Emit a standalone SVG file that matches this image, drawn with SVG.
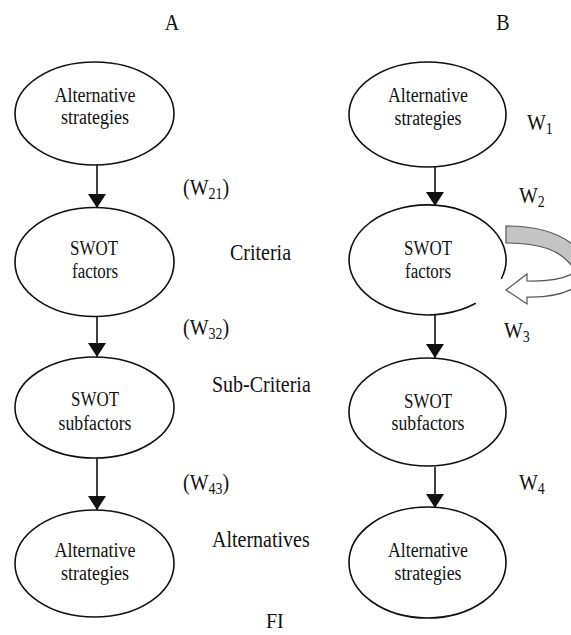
<svg xmlns="http://www.w3.org/2000/svg" width="571" height="635" viewBox="0 0 571 635">
<style>
  .node { fill: #fff; stroke: #111; stroke-width: 1.6; }
  .nt { font-family: "Liberation Serif", "Times New Roman", Times, "DejaVu Serif", serif; font-size: 20px; fill: #111; text-anchor: middle; }
  .lb { font-family: "Liberation Serif", "Times New Roman", Times, "DejaVu Serif", serif; font-size: 20px; fill: #111; }
  .sub { font-size: 14px; }
  .edge { stroke: #111; stroke-width: 1.6; fill: none; }
</style>
<defs>
  <marker id="ah" viewBox="0 0 14 18" refX="14" refY="9" markerWidth="14" markerHeight="18" markerUnits="userSpaceOnUse" orient="auto">
    <path d="M0,0 L14,9 L0,18 Z" fill="#111"/>
  </marker>
</defs>
<rect width="571" height="635" fill="#fff"/>

<text class="lb" transform="translate(172,30) scale(1,1.12)" text-anchor="middle">A</text>
<text class="lb" transform="translate(503,30) scale(1,1.12)" text-anchor="middle">B</text>

<g id="connectors">
  <line class="edge" x1="97" y1="165" x2="97" y2="208" marker-end="url(#ah)"/>
  <line class="edge" x1="97" y1="317" x2="97" y2="357" marker-end="url(#ah)"/>
  <line class="edge" x1="97" y1="458" x2="97" y2="510" marker-end="url(#ah)"/>
  <line class="edge" x1="435" y1="167" x2="435" y2="206" marker-end="url(#ah)"/>
  <line class="edge" x1="435" y1="315" x2="435" y2="358" marker-end="url(#ah)"/>
  <line class="edge" x1="435" y1="467" x2="435" y2="508" marker-end="url(#ah)"/>
</g>

<g id="a1">
  <ellipse class="node" cx="94.5" cy="113.5" rx="79.5" ry="51.5"/>
  <text class="nt" x="95" y="102" textLength="81" lengthAdjust="spacingAndGlyphs">Alternative</text>
  <text class="nt" x="95" y="124" textLength="68" lengthAdjust="spacingAndGlyphs">strategies</text>
</g>
<g id="a2">
  <ellipse class="node" cx="94.5" cy="262" rx="79.5" ry="54.5"/>
  <text class="nt" x="94" y="255" textLength="48" lengthAdjust="spacingAndGlyphs">SWOT</text>
  <text class="nt" x="95" y="278" textLength="46" lengthAdjust="spacingAndGlyphs">factors</text>
</g>
<g id="a3">
  <ellipse class="node" cx="94.5" cy="407.5" rx="79.5" ry="50.5"/>
  <text class="nt" x="95" y="406" textLength="48" lengthAdjust="spacingAndGlyphs">SWOT</text>
  <text class="nt" x="95" y="430" textLength="73" lengthAdjust="spacingAndGlyphs">subfactors</text>
</g>
<g id="a4">
  <ellipse class="node" cx="94.5" cy="563.5" rx="79.5" ry="53.5"/>
  <text class="nt" x="95" y="557" textLength="81" lengthAdjust="spacingAndGlyphs">Alternative</text>
  <text class="nt" x="95" y="580" textLength="68" lengthAdjust="spacingAndGlyphs">strategies</text>
</g>

<g id="b1">
  <ellipse class="node" cx="427.5" cy="114.5" rx="78.5" ry="52.5"/>
  <text class="nt" x="428" y="102" textLength="80" lengthAdjust="spacingAndGlyphs">Alternative</text>
  <text class="nt" x="428" y="125" textLength="67" lengthAdjust="spacingAndGlyphs">strategies</text>
</g>
<g id="b2">
  <path class="node" d="M475.8,303.3 A78.5,55 0 1 1 501.3,278.8"/>
  <text class="nt" x="428" y="255" textLength="48" lengthAdjust="spacingAndGlyphs">SWOT</text>
  <text class="nt" x="428" y="278" textLength="46" lengthAdjust="spacingAndGlyphs">factors</text>
</g>
<g id="b3">
  <ellipse class="node" cx="427.5" cy="412" rx="78.5" ry="54"/>
  <text class="nt" x="428" y="408" textLength="48" lengthAdjust="spacingAndGlyphs">SWOT</text>
  <text class="nt" x="428" y="430" textLength="73" lengthAdjust="spacingAndGlyphs">subfactors</text>
</g>
<g id="b4">
  <ellipse class="node" cx="427.5" cy="562.5" rx="78.5" ry="55.5"/>
  <text class="nt" x="428" y="557" textLength="80" lengthAdjust="spacingAndGlyphs">Alternative</text>
  <text class="nt" x="428" y="580" textLength="67" lengthAdjust="spacingAndGlyphs">strategies</text>
</g>

<g id="loop-arrow">
  <path d="M506,226 C542,226 568,236 582,254 L572,266 C560,250 540,243 506,243 Z" fill="#c4c4c4" stroke="#555" stroke-width="1.2"/>
  <path d="M582,254 C586,272 566,282 527,281 L527,274 L506,290 L527,304 L527,297 C567,298 592,284 592,258 Z" fill="#fff" stroke="#555" stroke-width="1.2"/>
</g>

<g id="labels">
  <text class="lb" transform="translate(183,195) scale(1,1.12)">(W<tspan class="sub" dy="4">21</tspan><tspan dy="-4">)</tspan></text>
  <text class="lb" transform="translate(230,260) scale(1,1.12)">Criteria</text>
  <text class="lb" transform="translate(183,335) scale(1,1.12)">(W<tspan class="sub" dy="4">32</tspan><tspan dy="-4">)</tspan></text>
  <text class="lb" transform="translate(212,392) scale(1,1.12)">Sub-Criteria</text>
  <text class="lb" transform="translate(183,490) scale(1,1.12)">(W<tspan class="sub" dy="4">43</tspan><tspan dy="-4">)</tspan></text>
  <text class="lb" transform="translate(212,547) scale(1,1.12)">Alternatives</text>
  <text class="lb" transform="translate(527,130) scale(1,1.12)">W<tspan class="sub" dy="4">1</tspan></text>
  <text class="lb" transform="translate(519,203) scale(1,1.12)">W<tspan class="sub" dy="4">2</tspan></text>
  <text class="lb" transform="translate(504,338) scale(1,1.12)">W<tspan class="sub" dy="4">3</tspan></text>
  <text class="lb" transform="translate(519,490) scale(1,1.12)">W<tspan class="sub" dy="4">4</tspan></text>
  <text class="lb" x="266" y="628">FI</text>
</g>
</svg>
